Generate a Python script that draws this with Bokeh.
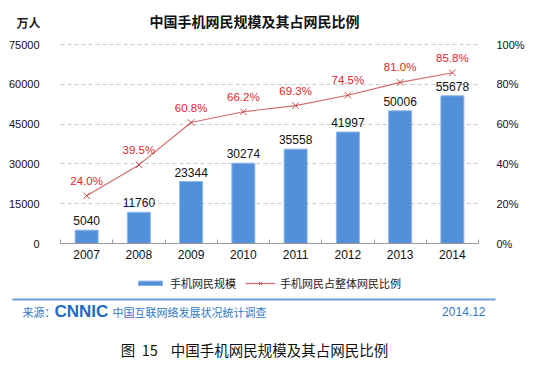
from bokeh.plotting import figure
from bokeh.models import (ColumnDataSource, Range1d, LinearAxis, FixedTicker,
                          PrintfTickFormatter, Legend, LegendItem, Label, BoxAnnotation)
from bokeh.embed import file_html
from bokeh.resources import INLINE
from bokeh.core.properties import value

# ---- data ----
years = ["2007", "2008", "2009", "2010", "2011", "2012", "2013", "2014"]
users = [5040, 11760, 23344, 30274, 35558, 41997, 50006, 55678]      # 万人
share = [24.0, 39.5, 60.8, 66.2, 69.3, 74.5, 81.0, 85.8]             # %
left_ticks = [0, 15000, 30000, 45000, 60000, 75000]
right_ticks = [0, 20, 40, 60, 80, 100]
left_max, right_max = 75000, 100

title_text = "中国手机网民规模及其占网民比例"
unit_text = "万人"
legend_bar = "手机网民规模"
legend_line = "手机网民占整体网民比例"
source_prefix = "来源："
source_logo = "CNNIC"
source_text = "中国互联网络发展状况统计调查"
date_text = "2014.12"
caption_text = "图\u00a0\u00a015\u00a0\u00a0\u00a0\u00a0中国手机网民规模及其占网民比例"

NUM_FONT = "Liberation Sans"
CJK_FONT = "Noto Sans CJK SC"
BAR_COLOR = "#5290da"
LINE_COLOR = "#d46a6a"
MARK_COLOR = "#c84848"
RED_TEXT = "#e0262b"
BLUE_TEXT = "#2f78c4"

# ---- canvas geometry (pixels) ----
W, H = 548, 370
PX_L, PX_R, PX_T, PX_B = 60, 478, 44, 243   # plotting area

n = len(years)
kx = n / (PX_R - PX_L)
x_lo, x_hi = -0.5, n - 0.5
ky = left_max / (PX_B - PX_T)
kp = right_max / (PX_B - PX_T)

p = figure(width=W, height=H, output_backend="svg", toolbar_location=None,
           x_range=Range1d(x_lo - PX_L * kx, x_lo + (W - PX_L) * kx),
           y_range=Range1d(-(H - PX_B) * ky, left_max + PX_T * ky),
           min_border=0)
p.outline_line_color = None
p.extra_y_ranges = {"pct": Range1d(-(H - PX_B) * kp, right_max + PX_T * kp)}


def sy(ref_y):
    """screen y (from bottom) for a top-down pixel position"""
    return H - ref_y


xs = list(range(n))
src = ColumnDataSource(dict(
    x=xs, users=users, share=share,
    ulab=[str(u) for u in users],
    slab=[f"{s:.1f}%" for s in share],
))

bars = p.vbar(x="x", top="users", width=0.44, source=src,
              fill_color=BAR_COLOR, line_color="#8fb4e6", line_width=1)
ln = p.line(x="x", y="share", source=src, y_range_name="pct",
            line_color=LINE_COLOR, line_width=1.2)
mk = p.scatter(x="x", y="share", source=src, y_range_name="pct",
               marker="x", size=9, line_color=MARK_COLOR, line_width=1)

p.text(x="x", y="users", text="ulab", source=src, text_align="center",
       text_baseline="bottom", y_offset=-5, text_font=value(NUM_FONT),
       text_font_size="12px", text_color="#111111")
p.text(x="x", y="share", text="slab", source=src, y_range_name="pct",
       text_align="center", text_baseline="bottom", y_offset=-9,
       text_font=value(NUM_FONT), text_font_size="11.5px", text_color=RED_TEXT)

# ---- axes (fixed at the plotting-area edges) ----
xa = p.xaxis[0]
xa.fixed_location = 0
xa.bounds = (x_lo, x_hi)
xa.ticker = FixedTicker(ticks=xs, minor_ticks=[i - 0.5 for i in range(n + 1)])
xa.major_label_overrides = {i: y for i, y in zip(xs, years)}
xa.major_tick_in = 0
xa.major_tick_out = 0
xa.minor_tick_in = 4
xa.minor_tick_out = 0
xa.minor_tick_line_color = "#9a9a9a"
xa.axis_line_color = "#9a9a9a"
xa.major_label_standoff = 6
xa.major_label_text_font = NUM_FONT
xa.major_label_text_font_size = "12px"
xa.major_label_text_color = "#111111"

ya = p.yaxis[0]
ya.fixed_location = x_lo
ya.bounds = (0, left_max)
ya.ticker = FixedTicker(ticks=left_ticks)
ya.axis_line_color = None
ya.major_tick_line_color = None
ya.minor_tick_line_color = None
ya.major_label_standoff = 15
ya.major_label_text_font = NUM_FONT
ya.major_label_text_font_size = "11px"
ya.major_label_text_color = "#111111"

ra = LinearAxis(y_range_name="pct", ticker=FixedTicker(ticks=right_ticks),
                formatter=PrintfTickFormatter(format="%d%%"),
                fixed_location=x_hi, bounds=(0, right_max))
ra.axis_line_color = None
ra.major_tick_line_color = None
ra.minor_tick_line_color = None
ra.major_label_standoff = 12
ra.major_label_text_font = NUM_FONT
ra.major_label_text_font_size = "11px"
ra.major_label_text_color = "#111111"
p.add_layout(ra, "right")

p.xgrid.grid_line_color = None
p.ygrid.ticker = FixedTicker(ticks=left_ticks[1:])
p.ygrid.cross_bounds = (x_lo, x_hi)
p.ygrid.grid_line_color = "#c8c8c8"
p.ygrid.grid_line_dash = "4 3"

# ---- header ----
p.add_layout(Label(x=28, y=sy(22), x_units="screen", y_units="screen", text=unit_text,
                   text_align="center", text_baseline="middle", text_font=CJK_FONT,
                   text_font_size="12px", text_font_style="bold", text_color="#222222"))
p.add_layout(Label(x=254, y=sy(20), x_units="screen", y_units="screen", text=title_text,
                   text_align="center", text_baseline="middle", text_font=CJK_FONT,
                   text_font_size="14px", text_font_style="bold", text_color="#111111"))

# ---- legends ----
def make_legend(item, x, gh):
    return Legend(items=[item], location=(x, sy(291)), orientation="horizontal",
                  glyph_width=30, glyph_height=gh, label_height=12, label_standoff=5,
                  padding=0, margin=0, border_line_color=None, background_fill_alpha=0,
                  label_text_font=CJK_FONT, label_text_font_size="11px",
                  label_text_color="#222222")

p.add_layout(make_legend(LegendItem(label=legend_bar, renderers=[bars]), 135, 6))
p.add_layout(make_legend(LegendItem(label=legend_line, renderers=[ln, mk]), 245, 12))

# ---- footer ----
p.add_layout(BoxAnnotation(left=12, right=495, bottom=sy(300), top=sy(298),
                           left_units="screen", right_units="screen",
                           bottom_units="screen", top_units="screen",
                           fill_color="#6a9fd8", fill_alpha=1, line_color=None))
p.add_layout(Label(x=22, y=sy(311), x_units="screen", y_units="screen", text=source_prefix,
                   text_baseline="middle", text_font=CJK_FONT, text_font_size="11px",
                   text_color=BLUE_TEXT))
p.add_layout(Label(x=54, y=sy(311), x_units="screen", y_units="screen", text=source_logo,
                   text_baseline="middle", text_font=NUM_FONT, text_font_size="17px",
                   text_font_style="bold", text_color="#1f6cc0"))
p.add_layout(Label(x=112, y=sy(311), x_units="screen", y_units="screen", text=source_text,
                   text_baseline="middle", text_font=CJK_FONT, text_font_size="11px",
                   text_color=BLUE_TEXT))
p.add_layout(Label(x=485, y=sy(311), x_units="screen", y_units="screen", text=date_text,
                   text_align="right", text_baseline="middle", text_font=NUM_FONT,
                   text_font_size="12px", text_color=BLUE_TEXT))
p.add_layout(Label(x=254, y=sy(349), x_units="screen", y_units="screen", text=caption_text,
                   text_align="center", text_baseline="middle", text_font=CJK_FONT,
                   text_font_size="14.5px", text_color="#111111"))

open("out.html", "w").write(file_html(p, INLINE))
